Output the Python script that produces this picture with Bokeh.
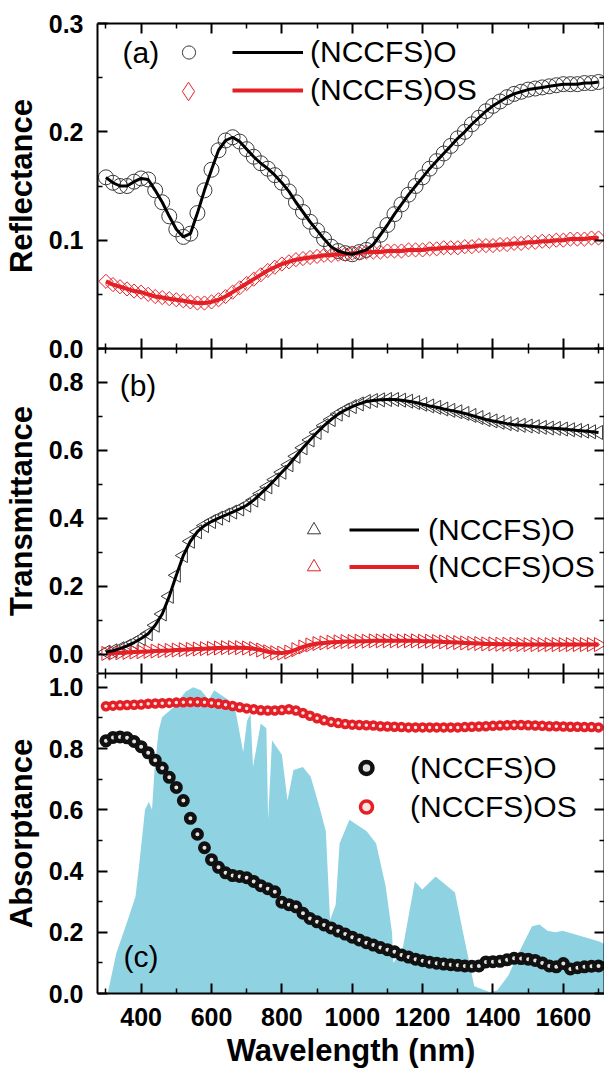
import math
from bokeh.plotting import figure
from bokeh.models import (Range1d, LinearAxis, FixedTicker, NumeralTickFormatter,
                          Legend, LegendItem, Label)
from bokeh.layouts import column
from bokeh.embed import file_html
from bokeh.resources import INLINE

# ---------------- data ----------------
wavelength = list(range(300, 1701, 20))

refl_O = [0.158, 0.153, 0.150, 0.150, 0.154, 0.157, 0.156, 0.146, 0.135, 0.122,
          0.110, 0.103, 0.106, 0.125, 0.146, 0.165, 0.183, 0.192, 0.195, 0.191,
          0.184, 0.177, 0.171, 0.166, 0.160, 0.153, 0.145, 0.135, 0.126, 0.117,
          0.109, 0.101, 0.094, 0.090, 0.088, 0.087, 0.089, 0.091, 0.096, 0.105,
          0.114, 0.124, 0.133, 0.142, 0.150, 0.158, 0.166, 0.173, 0.180, 0.187,
          0.194, 0.200, 0.207, 0.213, 0.219, 0.224, 0.228, 0.232, 0.235, 0.237,
          0.239, 0.240, 0.241, 0.242, 0.243, 0.244, 0.244, 0.244, 0.245, 0.245,
          0.246]
refl_OS = [0.062, 0.059, 0.057, 0.055, 0.053, 0.052, 0.050, 0.048, 0.047, 0.046,
           0.045, 0.044, 0.043, 0.042, 0.042, 0.043, 0.045, 0.048, 0.052, 0.056,
           0.060, 0.064, 0.068, 0.072, 0.075, 0.078, 0.080, 0.082, 0.083, 0.084,
           0.085, 0.086, 0.086, 0.087, 0.087, 0.088, 0.088, 0.089, 0.089, 0.089,
           0.090, 0.090, 0.090, 0.091, 0.091, 0.091, 0.092, 0.092, 0.093, 0.093,
           0.093, 0.094, 0.094, 0.095, 0.095, 0.095, 0.096, 0.096, 0.097, 0.097,
           0.098, 0.098, 0.099, 0.099, 0.100, 0.100, 0.101, 0.101, 0.101, 0.102,
           0.102]
trans_O = [0.006, 0.010, 0.016, 0.024, 0.034, 0.046, 0.060, 0.085, 0.118, 0.170,
           0.232, 0.290, 0.332, 0.360, 0.378, 0.390, 0.400, 0.409, 0.418, 0.427,
           0.438, 0.453, 0.472, 0.492, 0.513, 0.535, 0.557, 0.582, 0.607, 0.630,
           0.652, 0.672, 0.690, 0.706, 0.718, 0.728, 0.736, 0.743, 0.746, 0.748,
           0.749, 0.749, 0.747, 0.744, 0.740, 0.735, 0.730, 0.726, 0.721, 0.717,
           0.713, 0.708, 0.702, 0.696, 0.690, 0.686, 0.682, 0.678, 0.675, 0.673,
           0.671, 0.669, 0.667, 0.665, 0.664, 0.662, 0.660, 0.658, 0.656, 0.654,
           0.652]
trans_OS = [0.002, 0.003, 0.004, 0.005, 0.006, 0.007, 0.008, 0.009, 0.010, 0.011,
            0.012, 0.013, 0.014, 0.015, 0.016, 0.017, 0.018, 0.019, 0.019, 0.019,
            0.018, 0.016, 0.012, 0.007, 0.004, 0.003, 0.006, 0.013, 0.021, 0.027,
            0.031, 0.033, 0.035, 0.036, 0.037, 0.037, 0.038, 0.038, 0.039, 0.039,
            0.039, 0.039, 0.039, 0.039, 0.039, 0.038, 0.038, 0.037, 0.036, 0.035,
            0.034, 0.033, 0.032, 0.031, 0.030, 0.030, 0.029, 0.029, 0.029, 0.028,
            0.028, 0.028, 0.028, 0.028, 0.028, 0.028, 0.028, 0.028, 0.028, 0.028,
            0.028]
abs_O = [0.825, 0.836, 0.838, 0.835, 0.823, 0.806, 0.786, 0.762, 0.736, 0.706,
         0.673, 0.630, 0.572, 0.520, 0.476, 0.437, 0.412, 0.394, 0.385, 0.382,
         0.378, 0.366, 0.352, 0.342, 0.332, 0.298, 0.290, 0.283, 0.262, 0.245,
         0.234, 0.224, 0.214, 0.204, 0.194, 0.184, 0.175, 0.166, 0.158, 0.150,
         0.143, 0.136, 0.126, 0.119, 0.112, 0.107, 0.102, 0.099, 0.096, 0.094,
         0.092, 0.090, 0.089, 0.090, 0.103, 0.104, 0.105, 0.110, 0.115, 0.114,
         0.112, 0.108, 0.100, 0.090, 0.087, 0.098, 0.080, 0.084, 0.087, 0.089,
         0.090]
abs_OS = [0.938, 0.940, 0.941, 0.942, 0.943, 0.944, 0.946, 0.947, 0.948, 0.949,
          0.950, 0.951, 0.952, 0.952, 0.951, 0.949, 0.946, 0.943, 0.939, 0.935,
          0.931, 0.928, 0.925, 0.924, 0.924, 0.926, 0.928, 0.924, 0.916, 0.907,
          0.899, 0.892, 0.887, 0.883, 0.880, 0.878, 0.877, 0.876, 0.875, 0.873,
          0.872, 0.871, 0.870, 0.869, 0.869, 0.869, 0.869, 0.869, 0.869, 0.869,
          0.869, 0.870, 0.871, 0.872, 0.873, 0.874, 0.875, 0.876, 0.877, 0.877,
          0.876, 0.875, 0.874, 0.873, 0.873, 0.872, 0.871, 0.871, 0.870, 0.870,
          0.869]
solar_nm = [305, 329, 362, 384, 395, 411, 422, 431, 438, 450, 460, 493, 526, 548,
            570, 592, 608, 646, 668, 690, 701, 711, 718, 740, 756, 761, 772, 800,
            816, 833, 860, 882, 909, 925, 937, 953, 964, 992, 1041, 1068, 1095,
            1113, 1117, 1144, 1178, 1199, 1237, 1292, 1313, 1347, 1390, 1412, 1444,
            1472, 1511, 1532, 1555, 1577, 1598, 1642, 1702, 1720]
solar_val = [0.0, 0.13, 0.24, 0.317, 0.426, 0.60, 0.626, 0.60, 0.73, 0.86, 0.903,
             0.936, 0.985, 1.0, 0.99, 0.96, 0.99, 0.96, 0.925, 0.789, 0.89, 0.914,
             0.74, 0.882, 0.866, 0.567, 0.827, 0.78, 0.63, 0.73, 0.74, 0.708, 0.60,
             0.53, 0.24, 0.29, 0.49, 0.567, 0.53, 0.49, 0.35, 0.2, 0.1, 0.15, 0.366,
             0.34, 0.382, 0.33, 0.21, 0.024, 0.005, 0.01, 0.06, 0.13, 0.22, 0.225,
             0.205, 0.2, 0.205, 0.19, 0.17, 0.16]

series_labels = ["(NCCFS)O", "(NCCFS)OS"]
panel_tags = ["(a)", "(b)", "(c)"]
y_titles = ["Reflectance", "Transmittance", "Absorptance"]
x_title = "Wavelength (nm)"
x_major = [400, 600, 800, 1000, 1200, 1400, 1600]
x_minor = [300, 500, 700, 900, 1100, 1300, 1500, 1700]
refl_major = [0.0, 0.1, 0.2, 0.3]
refl_minor = [0.05, 0.15, 0.25]
trans_major = [0.0, 0.2, 0.4, 0.6, 0.8]
trans_minor = [0.1, 0.3, 0.5, 0.7]
abs_major = [0.0, 0.2, 0.4, 0.6, 0.8, 1.0]
abs_minor = [0.1, 0.3, 0.5, 0.7, 0.9]

# ---------------- style ----------------
FONT = "Liberation Sans"
RED = "#e41f26"
GREY = "#3a3a3a"
SOLAR = "#8fd3e3"

x_range = Range1d(276, 1717)


def add_axes(p, ymajor, yminor, ytitle, show_x):
    xt = FixedTicker(ticks=x_major, minor_ticks=x_minor)
    yt = FixedTicker(ticks=ymajor, minor_ticks=yminor)
    left = LinearAxis(ticker=yt, formatter=NumeralTickFormatter(format="0.0"),
                      axis_label=ytitle)
    right = LinearAxis(ticker=yt)
    top = LinearAxis(ticker=xt)
    bottom = LinearAxis(ticker=xt, axis_label=(x_title if show_x else None))
    for ax in (left, right, top, bottom):
        ax.axis_line_width = 2
        ax.axis_line_color = "black"
        ax.major_tick_line_width = 2
        ax.minor_tick_line_width = 1.5
        ax.major_tick_in = 10
        ax.major_tick_out = 0
        ax.minor_tick_in = 5
        ax.minor_tick_out = 0
        ax.major_label_text_font = FONT
        ax.major_label_text_font_style = "bold"
        ax.major_label_text_font_size = "25px"
        ax.major_label_text_color = "black"
        ax.axis_label_text_font = FONT
        ax.axis_label_text_font_style = "bold"
        ax.axis_label_text_font_size = "31px"
        ax.axis_label_text_color = "black"
    hidden = [right, top] + ([] if show_x else [bottom])
    for ax in hidden:
        ax.major_label_text_font_size = "0px"
        ax.major_label_text_color = None
        ax.major_label_standoff = 0
    left.major_label_standoff = 14
    left.axis_label_standoff = 7
    if show_x:
        bottom.major_label_standoff = 14
        bottom.axis_label_standoff = 4
    p.add_layout(left, "left")
    p.add_layout(right, "right")
    p.add_layout(top, "above")
    p.add_layout(bottom, "below")


def make_fig(height, yr, top, bottom, **kw):
    p = figure(width=604, height=height, x_range=x_range, y_range=yr,
               output_backend="svg", toolbar_location=None,
               x_axis_location=None, y_axis_location=None,
               min_border_left=97, min_border_right=0,
               min_border_top=top, min_border_bottom=bottom, **kw)
    p.outline_line_color = None
    p.grid.visible = False
    return p


def legend(items, loc, gw, gh, standoff, hide_text=False):
    return Legend(items=items, location=loc, glyph_width=gw, glyph_height=gh,
                  label_height=gh, label_standoff=standoff, spacing=0,
                  padding=0, margin=0, border_line_color=None,
                  background_fill_alpha=0, label_text_font=FONT,
                  label_text_font_size="30px", label_text_color="black",
                  label_text_alpha=(0 if hide_text else 1))


def tag(p, text, x, y):
    p.add_layout(Label(x=x, y=y, text=text, text_font=FONT, text_font_size="30px",
                       text_baseline="middle", text_align="left",
                       text_color="black"))


# ---------------- panel (a) ----------------
pa = make_fig(362, Range1d(0, 0.3), 23, 14, margin=(0, 0, -14, 0))
add_axes(pa, refl_major, refl_minor, y_titles[0], False)
ra_m1 = pa.scatter(wavelength, refl_O, marker="circle", size=15, fill_color=None,
                   line_color=GREY, line_width=1)
ra_m2 = pa.scatter(wavelength, refl_OS, marker="square", angle=math.pi / 4, size=10,
                   fill_color=None, line_color=RED, line_width=1)
ra_l2 = pa.line(wavelength, refl_OS, line_color=RED, line_width=4)
ra_l1 = pa.line(wavelength, refl_O, line_color="black", line_width=3)
# hidden proxy used only for the legend key (legend keys are never rotated)
ra_key2 = pa.scatter(wavelength, refl_OS, marker="diamond", size=10, fill_color=None,
                     line_color=RED, line_width=1, visible=False)
pa.add_layout(legend([LegendItem(label=" ", renderers=[ra_m1])],
                     (75, 277), 33, 38, 5, True))
pa.add_layout(legend([LegendItem(label=" ", renderers=[ra_key2])],
                     (68, 234), 46, 46, 5, True))
pa.add_layout(legend([LegendItem(label=series_labels[0], renderers=[ra_l1]),
                      LegendItem(label=series_labels[1], renderers=[ra_l2])],
                     (135, 239), 71, 38, 7))
tag(pa, panel_tags[0], 347, 0.273)

# ---------------- panel (b) ----------------
pb = make_fig(325, Range1d(-0.057, 0.899), 0, 0,
              border_fill_color=None, background_fill_color=None)
add_axes(pb, trans_major, trans_minor, y_titles[1], False)
rb_m1 = pb.scatter(wavelength, trans_O, marker="triangle", angle=math.pi / 2, size=14,
                   fill_color=None, line_color=GREY, line_width=1)
rb_m2 = pb.scatter(wavelength, trans_OS, marker="triangle", angle=-math.pi / 2, size=14,
                   fill_color=None, line_color=RED, line_width=1)
rb_l2 = pb.line(wavelength, trans_OS, line_color=RED, line_width=4)
rb_l1 = pb.line(wavelength, trans_O, line_color="black", line_width=3)
pb.add_layout(legend([LegendItem(label=" ", renderers=[rb_m1]),
                      LegendItem(label=" ", renderers=[rb_m2])],
                     (200, 88), 33, 37, 5, True))
pb.add_layout(legend([LegendItem(label=series_labels[0], renderers=[rb_l1]),
                      LegendItem(label=series_labels[1], renderers=[rb_l2])],
                     (252, 88), 70, 37, 9))
tag(pb, panel_tags[1], 339, 0.789)

# ---------------- panel (c) ----------------
pc = make_fig(397, Range1d(0, 1.045), 0, 76)
add_axes(pc, abs_major, abs_minor, y_titles[2], True)
pc.varea(x=solar_nm, y1=0, y2=solar_val, fill_color=SOLAR)
rc_2 = pc.scatter(wavelength, abs_OS, marker="circle", size=7, fill_color="#ffe2e2",
                  line_color=RED, line_width=3.5)
rc_1 = pc.scatter(wavelength, abs_O, marker="circle", size=8.5, fill_color="#e2e2e2",
                  line_color="#111111", line_width=4.5)
pc.add_layout(legend([LegendItem(label=series_labels[0], renderers=[rc_1]),
                      LegendItem(label=series_labels[1], renderers=[rc_2])],
                     (254, 167), 30, 39, 29))
tag(pc, panel_tags[2], 350, 0.12)

layout = column(pa, pb, pc, spacing=0)
open("out.html", "w").write(file_html(layout, INLINE))
